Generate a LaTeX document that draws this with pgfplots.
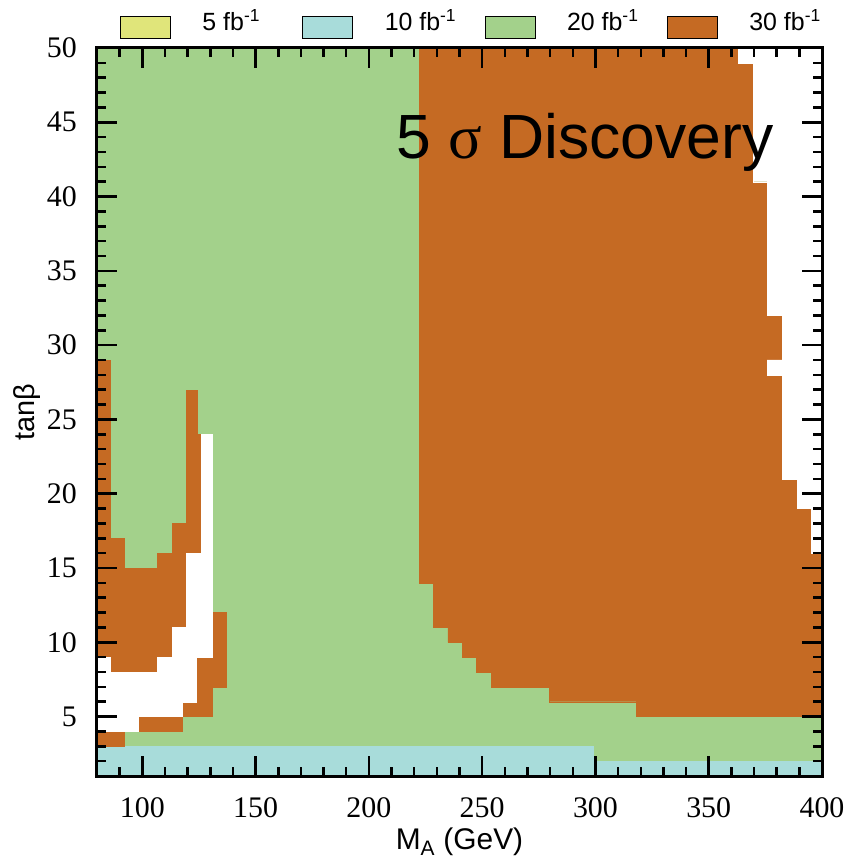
\documentclass[border=0pt]{standalone}
\usepackage{pgfplots}
\pgfplotsset{compat=1.18}
\usepackage{fontspec}
\setmainfont{Liberation Sans}
\newfontfamily\serifnum{Liberation Serif}
\definecolor{cY}{HTML}{E0E57A}
\definecolor{cB}{HTML}{A8DCDA}
\definecolor{cG}{HTML}{A3D18B}
\definecolor{cO}{HTML}{C56A23}
\pgfplotsset{reg/.style={draw=#1, fill=#1, line width=0.4bp, forget plot, mark=none}}
\begin{document}
\begin{tikzpicture}
\path[use as bounding box] (-97bp,-89bp) rectangle (753bp,776bp);
\begin{axis}[
  width=725bp, height=728bp, scale only axis,
  xmin=80, xmax=400, ymin=1, ymax=50,
  axis on top,
  xtick={100,150,...,400}, minor xtick={80,90,...,400},
  ytick={5,10,...,50}, minor ytick={1,2,...,50},
  tick align=inside, major tick length=20bp, minor tick length=9bp,
  every tick/.style={black, line width=2.5bp},
  axis line style={line width=3bp},
  /pgf/number format/assume math mode=true,
  tick label style={font=\serifnum\fontsize{30}{30}\selectfont, inner sep=0pt},
  xticklabel={\serifnum\fontsize{30}{30}\selectfont\pgfmathprintnumber{\tick}},
  yticklabel={\serifnum\fontsize{30}{30}\selectfont\pgfmathprintnumber{\tick}},
  xticklabel style={yshift=-21bp},
  yticklabel style={xshift=-20bp},
  xlabel={M\textsubscript{A} (GeV)},
  ylabel={\fontsize{29}{29}\selectfont tanβ},
  label style={font=\fontsize{30}{30}\selectfont},
  xlabel style={at={([yshift=-66bp]axis description cs:0.5,0)}, anchor=center},
  ylabel style={at={([xshift=-69.5bp]axis description cs:0,0.5)}, anchor=center},
  legend columns=4,
  legend style={at={(axis description cs:0,1)}, anchor=west, xshift=23bp, yshift=23.6bp,
    draw=none, fill=none, inner sep=0pt, column sep=0pt,
    font=\fontsize{25}{25}\selectfont, nodes={inner sep=0pt, anchor=mid west}},
  legend image code/.code={\draw[#1, draw=black, line width=0.8bp] (0bp,-11bp) rectangle (50bp,11bp);},
]
\addlegendimage{fill=cY}
\addlegendentry{\hspace{31.5bp}\makebox[100bp][l]{5 fb\textsuperscript{-1}}}
\addlegendimage{fill=cB}
\addlegendentry{\hspace{31.5bp}\makebox[100bp][l]{10 fb\textsuperscript{-1}}}
\addlegendimage{fill=cG}
\addlegendentry{\hspace{31.5bp}\makebox[100bp][l]{20 fb\textsuperscript{-1}}}
\addlegendimage{fill=cO}
\addlegendentry{\hspace{31.5bp}\makebox[100bp][l]{30 fb\textsuperscript{-1}}}

% background: 20 fb^-1
\addplot[reg=cG] coordinates {(80,1) (400,1) (400,50) (80,50)} -- cycle;
% 10 fb^-1 strip
\addplot[reg=cB] coordinates {(80,1) (400,1) (400,2) (299,2) (299,3) (80,3)} -- cycle;
% 30 fb^-1 main region
\addplot[reg=cO] coordinates {(222.2,50) (363.2,50) (363.2,49) (369.6,49) (369.6,41) (375.8,41) (375.8,32) (382.4,32) (382.4,29) (375.8,29) (375.8,28) (382.4,28) (382.4,21) (389.0,21) (389.0,19) (395.3,19) (395.3,16) (400,16) (400,5) (318,5) (318,6) (279.7,6) (279.7,7) (254.0,7) (254.0,8) (247.5,8) (247.5,9) (241.2,9) (241.2,10) (234.9,10) (234.9,11) (228.4,11) (228.4,14) (222.2,14)} -- cycle;
% not reached (white), right
\addplot[reg=white] coordinates {(363.2,50) (400,50) (400,16) (395.3,16) (395.3,19) (389.0,19) (389.0,21) (382.4,21) (382.4,28) (375.8,28) (375.8,29) (382.4,29) (382.4,32) (375.8,32) (375.8,41) (369.6,41) (369.6,49) (363.2,49)} -- cycle;
% 30 fb^-1, low mass
\addplot[reg=cO] coordinates {(80,17) (85.8,17) (85.8,29) (80,29)} -- cycle;
\addplot[reg=cO] coordinates {(80,15) (92.2,15) (92.2,17) (80,17)} -- cycle;
\addplot[reg=cO] coordinates {(80,11) (119.4,11) (119.4,15) (80,15)} -- cycle;
\addplot[reg=cO] coordinates {(80,9) (113.0,9) (113.0,11) (80,11)} -- cycle;
\addplot[reg=cO] coordinates {(85.8,8) (106.4,8) (106.4,9) (85.8,9)} -- cycle;
\addplot[reg=cO] coordinates {(80,3) (91.9,3) (91.9,4) (80,4)} -- cycle;
\addplot[reg=cO] coordinates {(119.4,24) (124.3,24) (124.3,27) (119.4,27)} -- cycle;
\addplot[reg=cO] coordinates {(119.4,18) (125.9,18) (125.9,24) (119.4,24)} -- cycle;
\addplot[reg=cO] coordinates {(113.0,16) (125.9,16) (125.9,18) (113.0,18)} -- cycle;
\addplot[reg=cO] coordinates {(106.4,15) (119.4,15) (119.4,16) (106.4,16)} -- cycle;
\addplot[reg=cO] coordinates {(130.7,7) (137.1,7) (137.1,12) (130.7,12)} -- cycle;
\addplot[reg=cO] coordinates {(124.0,6) (130.7,6) (130.7,9) (124.0,9)} -- cycle;
\addplot[reg=cO] coordinates {(117.6,5) (130.7,5) (130.7,6) (117.6,6)} -- cycle;
\addplot[reg=cO] coordinates {(98.2,4) (117.6,4) (117.6,5) (98.2,5)} -- cycle;
% not reached (white), low mass
\addplot[reg=white] coordinates {(125.9,16) (130.7,16) (130.7,24) (125.9,24)} -- cycle;
\addplot[reg=white] coordinates {(119.4,11) (130.7,11) (130.7,16) (119.4,16)} -- cycle;
\addplot[reg=white] coordinates {(113.0,9) (130.7,9) (130.7,11) (113.0,11)} -- cycle;
\addplot[reg=white] coordinates {(80,8) (85.8,8) (85.8,9) (80,9)} -- cycle;
\addplot[reg=white] coordinates {(106.4,8) (124.0,8) (124.0,9) (106.4,9)} -- cycle;
\addplot[reg=white] coordinates {(80,6) (124.0,6) (124.0,8) (80,8)} -- cycle;
\addplot[reg=white] coordinates {(80,5) (117.6,5) (117.6,6) (80,6)} -- cycle;
\addplot[reg=white] coordinates {(80,4) (98.2,4) (98.2,5) (80,5)} -- cycle;

\node[anchor=base west, inner sep=0pt, font=\fontsize{62.7}{62.7}\selectfont] at (axis cs:212,42.57) {5 {\serifnum σ} Discovery};
\end{axis}
\end{tikzpicture}
\end{document}
